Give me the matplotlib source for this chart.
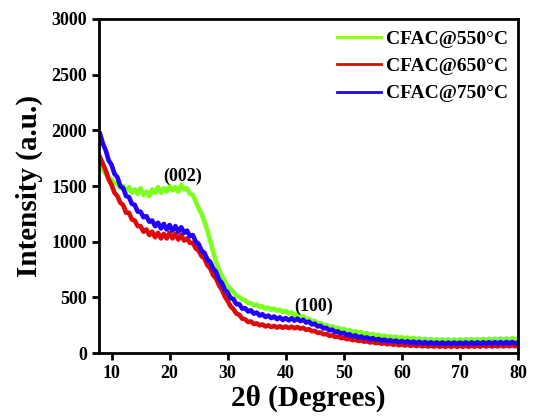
import matplotlib
matplotlib.use("Agg")
import matplotlib.pyplot as plt

# intensities, every 0.5 degree from 2theta = 8 to 80
cfac_550 = [1700, 1640, 1610, 1570, 1560, 1520, 1530, 1480, 1500, 1450,
            1490, 1440, 1470, 1430, 1480, 1420, 1450, 1410, 1470, 1440,
            1490, 1440, 1480, 1450, 1500, 1460, 1490, 1450, 1510, 1470,
            1480, 1430, 1420, 1360, 1300, 1250, 1180, 1100, 1010, 910,
            820, 750, 695, 645, 605, 575, 550, 515, 505, 480,
            475, 450, 450, 430, 435, 415, 420, 400, 410, 390,
            400, 380, 390, 370, 380, 355, 365, 340, 350, 325,
            330, 305, 310, 285, 290, 265, 272, 250, 255, 235,
            242, 222, 230, 210, 218, 200, 208, 190, 198, 182,
            190, 172, 180, 165, 172, 158, 165, 150, 158, 145,
            152, 140, 148, 135, 143, 130, 140, 127, 136, 124,
            133, 120, 130, 118, 128, 116, 126, 114, 125, 113,
            124, 112, 124, 113, 125, 114, 126, 115, 127, 116,
            128, 117, 129, 118, 130, 119, 131, 120, 132, 121,
            133, 122, 134, 123, 130]
cfac_650 = [1760, 1700, 1640, 1560, 1510, 1440, 1410, 1350, 1330, 1260,
            1260, 1200, 1190, 1140, 1140, 1090, 1110, 1060, 1090, 1040,
            1080, 1030, 1070, 1030, 1080, 1030, 1070, 1020, 1060, 1010,
            1030, 990, 990, 940, 920, 870, 850, 790, 760, 700,
            670, 610, 570, 510, 470, 420, 395, 355, 345, 310,
            305, 280, 285, 262, 268, 250, 258, 240, 250, 235,
            245, 230, 242, 228, 240, 226, 238, 224, 236, 220,
            228, 210, 215, 198, 200, 183, 186, 170, 172, 157,
            160, 146, 150, 136, 140, 126, 130, 117, 122, 110,
            115, 103, 108, 96, 102, 90, 97, 85, 92, 80,
            88, 76, 84, 72, 80, 69, 77, 66, 75, 64,
            73, 62, 71, 60, 70, 59, 69, 58, 68, 57,
            68, 57, 68, 57, 68, 58, 69, 58, 69, 59,
            70, 59, 70, 60, 71, 60, 71, 61, 72, 61,
            72, 62, 73, 62, 70]
cfac_750 = [1970, 1880, 1820, 1730, 1690, 1610, 1580, 1500, 1480, 1410,
            1400, 1340, 1330, 1270, 1270, 1220, 1230, 1180, 1190, 1140,
            1170, 1120, 1160, 1110, 1150, 1100, 1140, 1090, 1130, 1080,
            1100, 1050, 1060, 1000, 980, 920, 900, 840, 820, 760,
            730, 660, 630, 570, 545, 495, 485, 440, 440, 400,
            405, 375, 385, 355, 365, 338, 350, 325, 338, 315,
            330, 305, 322, 298, 316, 295, 314, 292, 310, 288,
            300, 275, 283, 258, 265, 240, 246, 222, 228, 205,
            212, 190, 196, 176, 182, 163, 170, 152, 160, 142,
            150, 134, 142, 126, 135, 119, 128, 113, 122, 108,
            117, 103, 113, 99, 110, 96, 107, 93, 104, 90,
            102, 88, 100, 86, 98, 85, 97, 84, 96, 83,
            96, 83, 96, 83, 96, 84, 97, 84, 97, 85,
            98, 85, 98, 86, 99, 86, 99, 87, 100, 87,
            100, 88, 100, 88, 95]

labels = ["CFAC@550\u00b0C", "CFAC@650\u00b0C", "CFAC@750\u00b0C"]
colors = ["#7CFF1E", "#DD0A0A", "#2200FF"]

plt.rcParams["font.family"] = ["Liberation Serif", "DejaVu Serif"]
plt.rcParams["font.weight"] = "bold"

fig = plt.figure(figsize=(5.34, 4.18), dpi=100)
ax = fig.add_axes([0.185, 0.155, 0.785, 0.80])

for y, lab, c in zip([cfac_550, cfac_650, cfac_750], labels, colors):
    two_theta = [8 + 0.5 * i for i in range(len(y))]
    ax.plot(two_theta, y, color=c, lw=3.3, label=lab)

ax.text(22.2, 1590, "(002)", ha="center", va="center", fontsize=13, fontweight="bold")
ax.text(44.8, 420, "(100)", ha="center", va="center", fontsize=13, fontweight="bold")

ax.set_xlim(7.8, 80)
ax.set_ylim(0, 3000)
ax.set_xticks(range(10, 81, 10))
ax.set_yticks(range(0, 3001, 500))
ax.tick_params(direction="out", length=5, width=2, labelsize=13, top=False, right=False)
for lbl in ax.get_xticklabels() + ax.get_yticklabels():
    lbl.set_fontweight("bold")
for s in ax.spines.values():
    s.set_linewidth(2)

ax.set_xlabel("2\u03b8 (Degrees)", fontsize=21, fontweight="bold", labelpad=2)
ax.set_ylabel("Intensity (a.u.)", fontsize=21, fontweight="bold", labelpad=6)

leg = ax.legend(loc="upper right", bbox_to_anchor=(1.0, 0.995), frameon=False,
                fontsize=14, handlelength=2.3, handletextpad=0.25,
                labelspacing=0.5, borderaxespad=0.1)
for t in leg.get_texts():
    t.set_fontweight("bold")
for h in leg.get_lines():
    h.set_linewidth(2)

fig.savefig("out.png", dpi=100)
